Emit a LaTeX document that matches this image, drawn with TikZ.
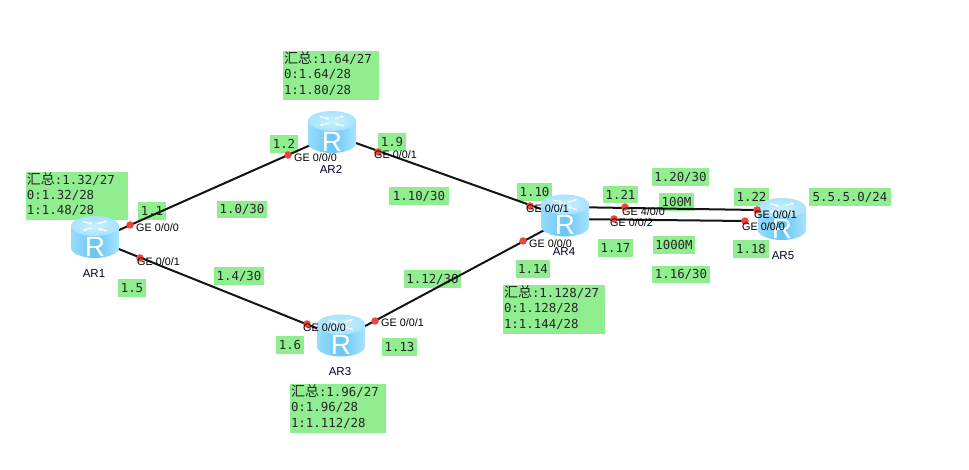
\documentclass[tikz,border=0pt]{standalone}
\usepackage{fontspec}
\setmainfont{Liberation Sans}
\newfontfamily\monof{DejaVu Sans Mono}
\newfontfamily\cjkf{Noto Sans CJK SC}
\usetikzlibrary{calc,arrows.meta}
\definecolor{boxgreen}{HTML}{90EE90}
\definecolor{dotred}{HTML}{F04438}
\definecolor{rtop}{HTML}{B4E8FF}
\definecolor{rside}{HTML}{68C6F6}
\definecolor{rsidel}{HTML}{98DCFC}
\definecolor{rsider}{HTML}{A8E4FF}
\pgfdeclarelayer{boxes}
\pgfdeclarelayer{links}
\pgfsetlayers{boxes,links,main}
\tikzset{
  gbox/.style={fill=boxgreen,inner sep=0pt,font=\monof\fontsize{12.4}{15.3}\selectfont,text=black!85},
  link/.style={draw=black!92,line width=2pt},
  portdot/.style={circle,fill=dotred,inner sep=0pt,minimum size=7.5pt},
  iflabel/.style={anchor=west,inner sep=0pt,font=\fontsize{10.8}{12}\selectfont,text=black},
  rname/.style={inner sep=0pt,font=\fontsize{11.5}{13}\selectfont,text=black!85!blue},
  routerbox/.style={minimum width=48pt,minimum height=42pt,inner sep=0pt},
  routericon/.pic={
    \shade[left color=rsidel,right color=rsider,middle color=rside]
      (-24,-11) -- (-24,11) arc[start angle=180,end angle=0,x radius=24,y radius=10] -- (24,-11) -- cycle;
    \shade[inner color=rtop!70!white,outer color=rtop!85!rside] (0,-11) ellipse[x radius=24,y radius=10];
    \draw[white,line width=1.1pt,-{Stealth[length=3pt,width=3.5pt]}] (-12,-15.5) -- (-3,-13);
    \draw[white,line width=1.1pt,-{Stealth[length=3pt,width=3.5pt]}] (3,-13.5) -- (12,-16);
    \draw[white,line width=1.1pt,-{Stealth[length=3pt,width=3.5pt]}] (-3,-9) -- (-12,-6.5);
    \draw[white,line width=1.1pt,-{Stealth[length=3pt,width=3.5pt]}] (12,-6) -- (3,-8.5);
    \node[text=white,inner sep=0pt,font=\fontsize{28}{30}\selectfont] at (0,9.5) {R};
  }
}
\newcommand{\gb}[6]{%
  \begin{pgfonlayer}{boxes}
  \node[gbox,minimum width={(#4-#2)*1pt},minimum height={(#5-#3)*1pt}] (#1) at ({(#2+#4)/2},{(#3+#5)/2}) {#6};
  \end{pgfonlayer}}
\newcommand{\sbx}[8]{%
  \begin{pgfonlayer}{boxes}
  \node[gbox,minimum height={(#5-#3)*1pt},text width={(#4-#2-2)*1pt},inner xsep=1pt,align=left] (#1) at ({(#2+#4)/2},{(#3+#5)/2})
    {{\cjkf\fontsize{14}{15.3}\selectfont 汇总}:#6\\#7\\#8\rule[-5pt]{0pt}{5pt}};
  \end{pgfonlayer}}
\begin{document}
\begin{tikzpicture}[x=1pt,y=-1pt]
\useasboundingbox (0,0) rectangle (969,470);
% boxes
\sbx{s1}{26}{172}{128}{220}{1.32/27}{0:1.32/28}{1:1.48/28}
\sbx{s2}{283}{51}{379}{100}{1.64/27}{0:1.64/28}{1:1.80/28}
\sbx{s3}{290}{384}{386}{433}{1.96/27}{0:1.96/28}{1:1.112/28}
\sbx{s4}{503}{285}{605}{334}{1.128/27}{0:1.128/28}{1:1.144/28}
\gb{b1}{138}{202}{166}{220}{1.1}
\gb{b2}{217}{201}{267}{218}{1.0/30}
\gb{b3}{214}{267}{264}{285}{1.4/30}
\gb{b4}{118}{279}{146}{297}{1.5}
\gb{b5}{270}{135}{298}{153}{1.2}
\gb{b6}{378}{133}{406}{151}{1.9}
\gb{b7}{389}{187}{449}{205}{1.10/30}
\gb{b8}{517}{183}{552}{201}{1.10}
\gb{b9}{603}{186}{638}{203}{1.21}
\gb{b10}{652}{168}{709}{186}{1.20/30}
\gb{b11}{659}{193}{694}{211}{100M}
\gb{b12}{598}{239}{633}{257}{1.17}
\gb{b13}{653}{236}{695}{254}{1000M}
\gb{b14}{516}{260}{550}{278}{1.14}
\gb{b15}{652}{266}{710}{283}{1.16/30}
\gb{b16}{734}{188}{769}{206}{1.22}
\gb{b17}{809}{188}{891}{206}{5.5.5.0/24}
\gb{b18}{733}{240}{769}{258}{1.18}
\gb{b19}{276}{336}{304}{354}{1.6}
\gb{b20}{382}{338}{417}{356}{1.13}
\gb{b21}{404}{270}{461}{288}{1.12/30}
% routers
\node[routerbox] (ar1) at (95,237) {}; \pic at (ar1) {routericon};
\node[routerbox] (ar2) at (332,132) {}; \pic at (ar2) {routericon};
\node[routerbox] (ar3) at (341,335.5) {}; \pic at (ar3) {routericon};
\node[routerbox] (ar4) at (565,215.5) {}; \pic at (ar4) {routericon};
\node[routerbox] (ar5) at (782,219) {}; \pic at (ar5) {routericon};
% port dots
\node[portdot] (p1a) at (130,225) {};
\node[portdot] (p1b) at (140,258) {};
\node[portdot] (p2a) at (288,155) {};
\node[portdot] (p2b) at (378,152) {};
\node[portdot] (p3a) at (307,324) {};
\node[portdot] (p3b) at (375,321) {};
\node[portdot] (p4a) at (530,206) {};
\node[portdot] (p4b) at (523,241) {};
\node[portdot] (p4c) at (625,207) {};
\node[portdot] (p4d) at (614,219) {};
\node[portdot] (p5a) at (757,210) {};
\node[portdot] (p5b) at (745,221) {};
% links
\begin{pgfonlayer}{links}
\draw[link] ($(ar1)+(0,3.7)$) -- ($(ar2)+(0,3.5)$);
\draw[link] ($(ar1)+(0,2.5)$) -- ($(ar3)+(0,2.5)$);
\draw[link] ($(ar2)+(0,2.5)$) -- ($(ar4)+(0,2)$);
\draw[link] ($(ar3)+(0,3.5)$) -- ($(ar4)+(0,3.5)$);
\draw[link] ($(ar4)+(0,-8.5)$) -- (p5a.center);
\draw[link] ($(ar4)+(0,3.5)$) -- (p5b.center);
\end{pgfonlayer}
% interface labels
\node[iflabel] (i1) at (136,228) {GE 0/0/0};
\node[iflabel] (i2) at (137,262) {GE 0/0/1};
\node[iflabel] (i3) at (294,158) {GE 0/0/0};
\node[iflabel] (i4) at (374,155) {GE 0/0/1};
\node[iflabel] (i5) at (303,328) {GE 0/0/0};
\node[iflabel] (i6) at (381,323) {GE 0/0/1};
\node[iflabel] (i7) at (526,209) {GE 0/0/1};
\node[iflabel] (i8) at (529,244) {GE 0/0/0};
\node[iflabel] (i9) at (622,212) {GE 4/0/0};
\node[iflabel] (i10) at (610,223) {GE 0/0/2};
\node[iflabel] (i11) at (754,215) {GE 0/0/1};
\node[iflabel] (i12) at (742,227) {GE 0/0/0};
% router names
\node[rname] (n1) at (94,274) {AR1};
\node[rname] (n2) at (331,169) {AR2};
\node[rname] (n3) at (340,372) {AR3};
\node[rname] (n4) at (564,252) {AR4};
\node[rname] (n5) at (783,256) {AR5};
\end{tikzpicture}
\end{document}
